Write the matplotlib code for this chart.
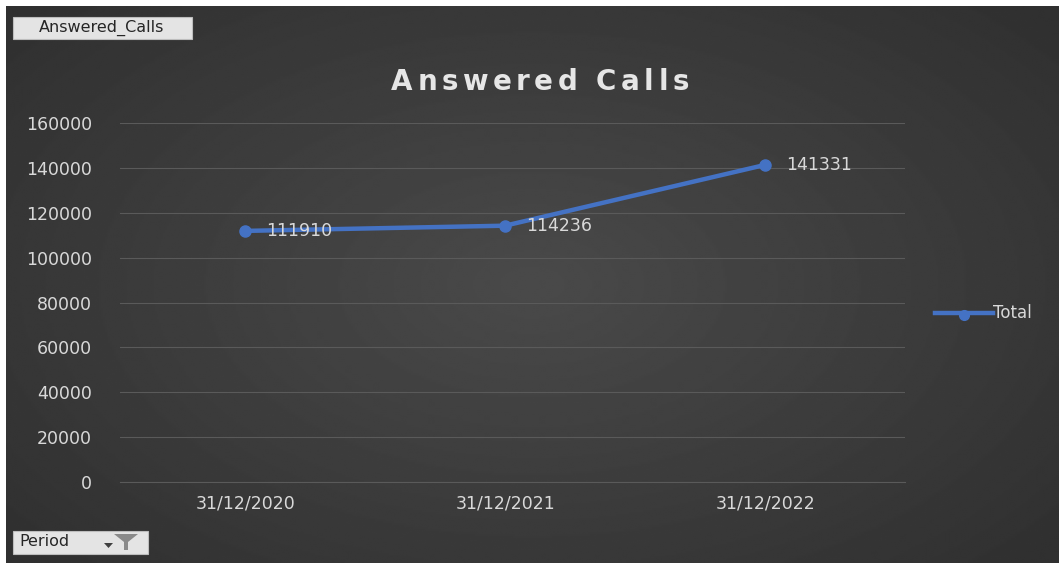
import numpy as np
import matplotlib.pyplot as plt
from matplotlib.patches import Rectangle, Polygon

# pivot chart data
periods = ["31/12/2020", "31/12/2021", "31/12/2022"]
answered = [111910, 114236, 141331]
y_ticks = [0, 20000, 40000, 60000, 80000, 100000, 120000, 140000, 160000]

W, H = 1059, 563
fig = plt.figure(figsize=(W / 100, H / 100), dpi=100)
fig.patch.set_facecolor("white")

# dark radial-gradient chart area background
bg = fig.add_axes([6 / W, 0, 1 - 6 / W, 1 - 6 / H])
yy, xx = np.mgrid[-1:1:300j, -1:1:560j]
r = np.sqrt((xx / 1.0) ** 2 + (yy / 1.1) ** 2)
bg.imshow(0.29 - 0.10 * np.clip(r, 0, 1.3) / 1.3, cmap="gray", vmin=0, vmax=1,
          aspect="auto", extent=[0, 1, 0, 1], interpolation="bilinear")
bg.set_axis_off()

ax = fig.add_axes([120 / W, 1 - 482 / H, 785 / W, (482 - 123) / H])
ax.set_facecolor("none")
x = np.arange(len(periods))
ax.plot(x, answered, color="#4472C4", lw=3.2, marker="o", ms=8,
        solid_capstyle="round", zorder=3)
for xi, v in zip(x, answered):
    ax.annotate(str(v), (xi, v), xytext=(15, 0), textcoords="offset points",
                color="#d9d9d9", fontsize=12.5, va="center", ha="left", zorder=4)

ax.set_xlim(-0.481, 2.538)
ax.set_ylim(0, 160000)
ax.set_yticks(y_ticks)
ax.set_yticklabels([str(t) for t in y_ticks])
ax.set_xticks(x)
ax.set_xticklabels(periods)
ax.grid(axis="y", color="#5a5a5a", lw=0.8)
ax.set_axisbelow(True)
ax.tick_params(axis="y", length=0, pad=20, labelcolor="#d9d9d9", labelsize=12.5)
ax.tick_params(axis="x", length=0, pad=9, labelcolor="#d9d9d9", labelsize=12.5)
for s in ax.spines.values():
    s.set_visible(False)
ax.spines["bottom"].set_visible(True)
ax.spines["bottom"].set_color("#5a5a5a")

# letter-spaced title, one glyph at a time
title = "Answered Calls"
renderer = fig.canvas.get_renderer()
props = dict(color="#e6e6e6", fontsize=20, fontweight="bold", va="center")
track = 4.5
widths = []
for ch in title:
    t = fig.text(0, 0, ch if ch != " " else "i", **props)
    widths.append(t.get_window_extent(renderer).width)
    t.remove()
total = sum(widths) + track * (len(title) - 1)
cx = 540 - total / 2
for ch, w in zip(title, widths):
    if ch != " ":
        fig.text(cx / W, 1 - 82 / H, ch, ha="left", **props)
    cx += w + track

# legend entry
fig.add_artist(plt.Line2D([935 / W, 993 / W], [1 - 313 / H] * 2, color="#4472C4",
                          lw=3.2, transform=fig.transFigure))
fig.add_artist(plt.Line2D([964 / W], [1 - 315 / H], color="#4472C4", marker="o",
                          ms=7, transform=fig.transFigure))
fig.text(993 / W, 1 - 313 / H, "Total", color="#d9d9d9", fontsize=12, va="center")

# pivot field buttons
fig.add_artist(Rectangle((13 / W, 1 - 39 / H), 179 / W, 22 / H, facecolor="#e4e4e4",
                         edgecolor="#bdbdbd", lw=0.8, transform=fig.transFigure))
fig.text(102 / W, 1 - 28 / H, "Answered_Calls", color="#262626", fontsize=11.5,
         va="center", ha="center")
fig.add_artist(Rectangle((13 / W, 1 - 554 / H), 135 / W, 23 / H, facecolor="#e4e4e4",
                         edgecolor="#bdbdbd", lw=0.8, transform=fig.transFigure))
fig.text(19 / W, 1 - 542 / H, "Period", color="#262626", fontsize=11.5, va="center")
fig.add_artist(Polygon([(104 / W, 1 - 543 / H), (113 / W, 1 - 543 / H),
                        (108.5 / W, 1 - 548 / H)], closed=True, facecolor="#404040",
                       transform=fig.transFigure))
fig.add_artist(Polygon([(114 / W, 1 - 534 / H), (138 / W, 1 - 534 / H),
                        (128 / W, 1 - 542 / H), (128 / W, 1 - 550 / H),
                        (124 / W, 1 - 550 / H), (124 / W, 1 - 542 / H)],
                       closed=True, facecolor="#8a8a8a", transform=fig.transFigure))

fig.savefig("out.png", dpi=100)
